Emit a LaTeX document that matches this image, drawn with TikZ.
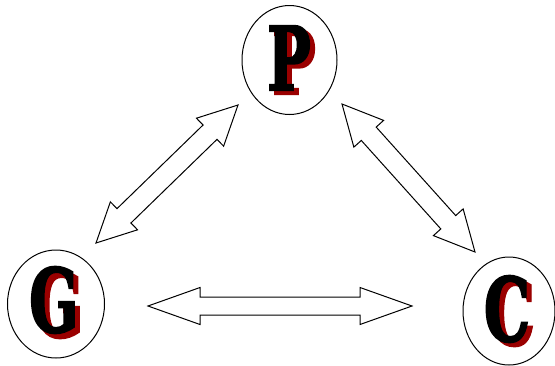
\documentclass[tikz,border=0pt]{standalone}
\usepackage{fontspec}
\usetikzlibrary{calc}
\newfontfamily\letterfont{DejaVu Serif Bold}[FakeBold=2.5]
\definecolor{shadowred}{HTML}{9A0000}
\tikzset{
  letter/.style={font=\letterfont\fontsize{88}{88}\selectfont, xscale=0.66, inner sep=0pt},
  arr/.style={draw=black, line width=1pt, fill=white, line join=miter},
}
% \dblarrow{A}{B}{headlength}{head half width}{shaft half width}
\newcommand\dblarrow[5]{%
  \coordinate (#1x) at ($(#1)!#3!(#2)$);
  \coordinate (#2x) at ($(#2)!#3!(#1)$);
  \draw[arr] (#1)
    -- ($(#1x)!#4!90:(#2)$) -- ($(#1x)!#5!90:(#2)$)
    -- ($(#2x)!#5!-90:(#1)$) -- ($(#2x)!#4!-90:(#1)$)
    -- (#2)
    -- ($(#2x)!#4!90:(#1)$) -- ($(#2x)!#5!90:(#1)$)
    -- ($(#1x)!#5!-90:(#2)$) -- ($(#1x)!#4!-90:(#2)$)
    -- cycle;
}
\begin{document}
\begin{tikzpicture}[x=1pt,y=-1pt]
\useasboundingbox (0,0) rectangle (555,365);
% ellipses
\draw[line width=1pt] (289.5,60) ellipse [x radius=47.5, y radius=54.5];
\draw[line width=1pt] (56,304) ellipse [x radius=48.5, y radius=54];
\draw[line width=1pt] (509,311) ellipse [x radius=46, y radius=54];
% letters with shadow
\node[letter, text=shadowred] (Ps) at (294,62) {P};
\node[letter] (P) at (289,58) {P};
\node[letter, text=shadowred] (Gs) at (59,305) {G};
\node[letter] (G) at (54,300) {G};
\node[letter, text=shadowred] (Cs) at (512,313) {C};
\node[letter] (C) at (507,309) {C};
% arrow tips
\coordinate (a1) at (96,243);
\coordinate (b1) at (238,105);
\coordinate (a2) at (342,104);
\coordinate (b2) at (475,252);
\coordinate (a3) at (148,306);
\coordinate (b3) at (412,306);
\dblarrow{a1}{b1}{39pt}{19.5pt}{10pt}
\dblarrow{a2}{b2}{40pt}{20pt}{10pt}
\dblarrow{a3}{b3}{52pt}{18.5pt}{9pt}
\end{tikzpicture}
\end{document}
